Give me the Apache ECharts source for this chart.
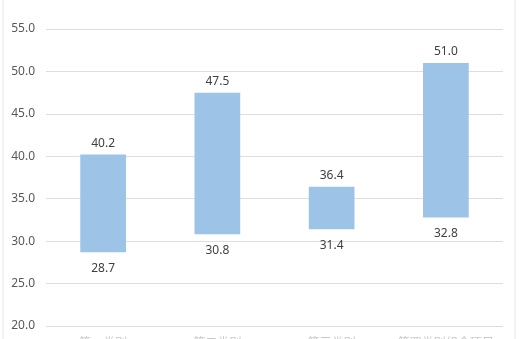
<!DOCTYPE html>
<html>
<head>
<meta charset="utf-8">
<script src="https://cdn.jsdelivr.net/npm/echarts@6/dist/echarts.min.js"></script>
<style>
html,body{margin:0;padding:0;background:#fff;}
#chart{width:522px;height:339px;}
</style>
</head>
<body>
<div id="chart"></div>
<script>
const categories = ['第一类别', '第二类别', '第三类别', '第四类别组合项目'];
const lowValues = [28.7, 30.8, 31.4, 32.8];
const highValues = [40.2, 47.5, 36.4, 51.0];
const yTickLabels = ['20.0', '25.0', '30.0', '35.0', '40.0', '45.0', '50.0', '55.0'];

const spans = highValues.map((h, i) => +(h - lowValues[i]).toFixed(1));

const chart = echarts.init(document.getElementById('chart'), null, {renderer: 'canvas'});
const font = '"Noto Sans", "Noto Sans CJK SC", sans-serif';
chart.setOption({
  animation: false,
  backgroundColor: '#ffffff',
  graphic: [{
    type: 'rect',
    shape: {x: 3, y: -2, width: 512, height: 345},
    style: {fill: 'none', stroke: '#e6e6e6', lineWidth: 1},
    silent: true
  }],
  grid: {left: 46, right: 19, top: 29, bottom: 13, containLabel: false, outerBoundsMode: 'none'},
  xAxis: {
    type: 'category',
    data: categories,
    axisLine: {show: false},
    axisTick: {show: false},
    axisLabel: {color: '#c8c8c8', fontSize: 12, fontFamily: font, margin: 12, interval: 0}
  },
  yAxis: {
    type: 'value',
    min: 20,
    max: 55,
    interval: 5,
    axisLine: {show: false},
    axisTick: {show: false},
    splitLine: {lineStyle: {color: '#dedede', width: 1}},
    axisLabel: {
      color: '#595959', fontSize: 12, fontFamily: font, margin: 11,
      formatter: v => yTickLabels[Math.round((v - 20) / 5)]
    }
  },
  series: [
    {
      type: 'bar',
      stack: 'range',
      data: lowValues,
      barWidth: '40%',
      itemStyle: {color: 'rgba(0,0,0,0)'},
      label: {
        show: true,
        position: 'insideTop',
        distance: 10,
        color: '#404040',
        fontSize: 12,
        fontFamily: font,
        formatter: p => lowValues[p.dataIndex].toFixed(1)
      },
      silent: true
    },
    {
      type: 'bar',
      stack: 'range',
      data: spans,
      barWidth: '40%',
      itemStyle: {color: '#9dc3e6'},
      label: {
        show: true,
        position: 'top',
        distance: 5,
        color: '#404040',
        fontSize: 12,
        fontFamily: font,
        formatter: p => highValues[p.dataIndex].toFixed(1)
      }
    }
  ]
});
</script>
</body>
</html>
